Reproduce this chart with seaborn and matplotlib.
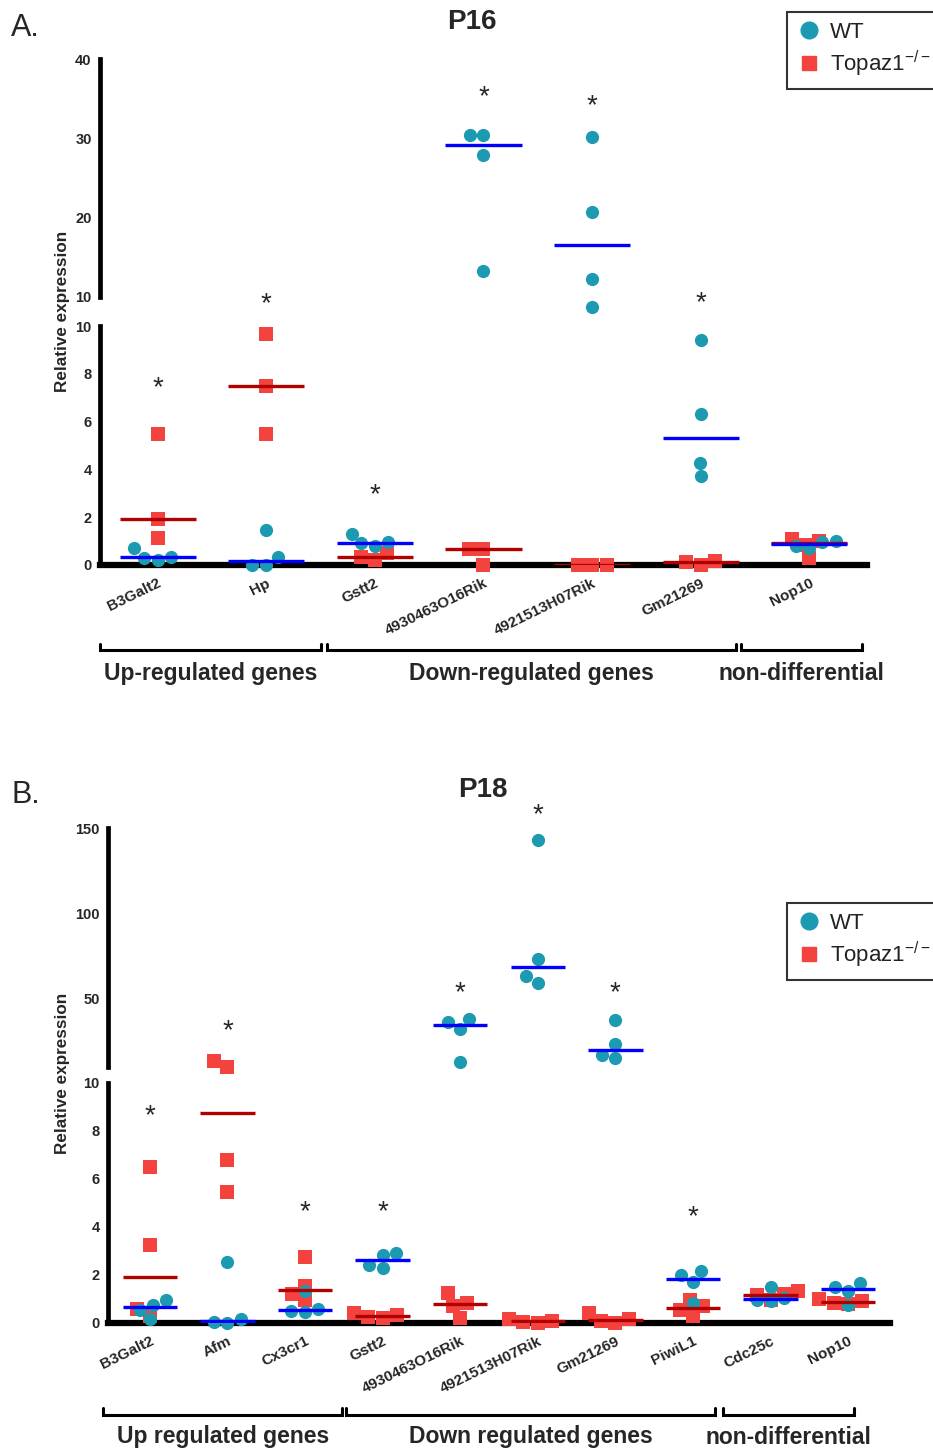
import numpy as np
import pandas as pd
import matplotlib
matplotlib.use('Agg')
import matplotlib.pyplot as plt
import matplotlib.transforms as mtrans
from matplotlib.lines import Line2D
import seaborn as sns

# --- P16 values (relative expression) ---
p16_genes = ['B3Galt2', 'Hp', 'Gstt2', '4930463O16Rik', '4921513H07Rik', 'Gm21269', 'Nop10']
p16_wt = [[0.33, 0.2, 0.7, 0.3],
          [1.45, 0.33, 0.02, 0.02],
          [1.3, 0.95, 0.9, 0.8],
          [30.4, 30.4, 27.9, 13.3],
          [30.2, 20.7, 12.3, 10.8],
          [9.41, 6.32, 4.27, 3.72],
          [0.72, 0.95, 1.0, 0.78]]
p16_ko = [[5.48, 1.92, 1.13],
          [9.67, 7.49, 5.48],
          [0.5, 0.33, 0.2],
          [0.68, 0.65, 0.02],
          [0.02, 0.02, 0.02],
          [0.15, 0.12, 0.02],
          [1.1, 1.0, 0.85, 0.3]]
p16_star = ['B3Galt2', 'Hp', 'Gstt2', '4930463O16Rik', '4921513H07Rik', 'Gm21269']

# --- P18 values ---
p18_genes = ['B3Galt2', 'Afm', 'Cx3cr1', 'Gstt2', '4930463O16Rik', '4921513H07Rik',
             'Gm21269', 'PiwiL1', 'Cdc25c', 'Nop10']
p18_wt = [[0.95, 0.75, 0.55, 0.15],
          [2.55, 0.15, 0.05, 0.02],
          [1.35, 0.6, 0.5, 0.45],
          [2.9, 2.85, 2.4, 2.3],
          [38.1, 36.4, 32.3, 12.9],
          [143.0, 73.3, 63.3, 59.2],
          [37.5, 23.5, 17.0, 15.3],
          [2.15, 2.0, 1.7, 0.82],
          [1.5, 1.05, 0.95, 0.9],
          [1.65, 1.5, 1.35, 0.75]]
p18_ko = [[6.5, 3.25, 0.6, 0.3],
          [10.9, 10.67, 6.8, 5.45],
          [2.75, 1.55, 1.2, 0.95],
          [0.4, 0.35, 0.25, 0.2],
          [1.25, 0.85, 0.7, 0.2],
          [0.15, 0.08, 0.05, 0.02],
          [0.4, 0.18, 0.08, 0.02],
          [0.95, 0.7, 0.55, 0.3],
          [1.35, 1.2, 1.15, 0.95],
          [1.0, 0.9, 0.85, 0.8]]
p18_star = ['B3Galt2', 'Afm', 'Cx3cr1', 'Gstt2', '4930463O16Rik', '4921513H07Rik', 'Gm21269', 'PiwiL1']

WT_COLOR = '#1c9ab2'
KO_COLOR = '#f4433f'
WT_LINE = '#0000ff'
KO_LINE = '#b00000'

sns.set_style('white')
plt.rcParams['font.family'] = ['Liberation Sans', 'DejaVu Sans']
plt.rcParams['mathtext.fontset'] = 'custom'
plt.rcParams['mathtext.rm'] = 'Liberation Sans'

W, H = 933, 1452
fig = plt.figure(figsize=(W / 100, H / 100), dpi=100)


def px_axes(left, top, right, bottom):
    return fig.add_axes([left / W, 1 - bottom / H, (right - left) / W, (bottom - top) / H])


def make_df(genes, wt, ko):
    rows = []
    for g, w, k in zip(genes, wt, ko):
        rows += [(g, 'WT', v) for v in w]
        rows += [(g, 'KO', v) for v in k]
    return pd.DataFrame(rows, columns=['gene', 'genotype', 'value'])


def draw_part(ax, df, genes, part):
    split = 11
    sub = df[df.value <= split] if part == 'low' else df[df.value > split]
    for gt, mk, sz, col, z in (('KO', 's', 10, KO_COLOR, 3), ('WT', 'o', 9.5, WT_COLOR, 4)):
        d = sub[sub.genotype == gt]
        if len(d):
            sns.swarmplot(data=d, x='gene', y='value', order=genes, marker=mk, size=sz,
                          color=col, linewidth=0, ax=ax, clip_on=False, zorder=z, warn_thresh=1)
    for gt, col in (('KO', KO_LINE), ('WT', WT_LINE)):
        sns.boxplot(data=df[df.genotype == gt], x='gene', y='value', order=genes, width=0.7,
                    showbox=False, showcaps=False, showfliers=False, whis=0,
                    whiskerprops={'visible': False},
                    medianprops={'color': col, 'linewidth': 2.4, 'zorder': 5}, ax=ax)
    ax.set_xlabel('')
    ax.set_ylabel('')


def style_axes(up, low, xlim):
    for ax in (up, low):
        ax.set_xlim(*xlim)
        for s in ('top', 'right'):
            ax.spines[s].set_visible(False)
        ax.spines['left'].set_linewidth(3.4)
        ax.spines['left'].set_color('black')
        ax.tick_params(axis='y', direction='out', length=5, width=3, color='black', pad=1,
                       labelsize=10.5)
        for t in ax.get_yticklabels():
            t.set_fontweight('bold')
    up.spines['bottom'].set_visible(False)
    up.tick_params(axis='x', bottom=False, labelbottom=False)
    low.spines['bottom'].set_linewidth(4.5)
    low.spines['bottom'].set_color('black')
    low.tick_params(axis='x', direction='out', length=4, width=3, color='black', pad=4)
    for t in low.get_xticklabels():
        t.set_rotation(26)
        t.set_ha('right')
        t.set_va('top')
        t.set_rotation_mode('anchor')
        t.set_fontsize(11)
        t.set_fontweight('bold')


def bracket(ax, x0, x1, y, tip, label, ly):
    tr = mtrans.blended_transform_factory(ax.transData, ax.transAxes)
    ax.plot([x0, x0, x1, x1], [tip, y, y, tip], transform=tr, color='black', lw=2.2,
            clip_on=False, solid_joinstyle='miter')
    ax.text((x0 + x1) / 2, ly, label, transform=tr, ha='center', va='center',
            fontsize=16.5, fontweight='bold')


def legend(y_top):
    handles = [Line2D([], [], marker='o', ls='', color=WT_COLOR, markersize=12, label='WT'),
               Line2D([], [], marker='s', ls='', color=KO_COLOR, markersize=10,
                      label='Topaz1$^{\\mathrm{-/-}}$')]
    leg = fig.legend(handles=handles, loc='upper left', bbox_to_anchor=(787 / W, 1 - y_top / H),
                     frameon=True, fancybox=False, fontsize=16, handletextpad=0.4,
                     borderpad=0.45, labelspacing=0.25, handlelength=1.1, borderaxespad=0)
    leg.get_frame().set_edgecolor('black')
    leg.get_frame().set_linewidth(1.5)
    for t in leg.get_texts():
        t.set_color('#222222')


# ---------------- Panel A: P16 ----------------
df16 = make_df(p16_genes, p16_wt, p16_ko)
a_up = px_axes(100, 59, 867, 297)
a_low = px_axes(100, 326, 867, 565)
draw_part(a_up, df16, p16_genes, 'up')
draw_part(a_low, df16, p16_genes, 'low')
a_up.set_ylim(10, 40)
a_up.set_yticks([10, 20, 30, 40])
a_low.set_ylim(0, 10)
a_low.set_yticks([0, 2, 4, 6, 8, 10])
style_axes(a_up, a_low, (-0.53, 6.53))

star16 = {'B3Galt2': ('low', 7.4), 'Hp': ('low', 10.9), 'Gstt2': ('low', 2.9),
          '4930463O16Rik': ('up', 35.2), '4921513H07Rik': ('up', 34.1), 'Gm21269': ('low', 10.95)}
for g in p16_star:
    part, yv = star16[g]
    ax = a_up if part == 'up' else a_low
    ax.text(p16_genes.index(g), yv, '*', ha='center', va='center', fontsize=20, clip_on=False)

bracket(a_low, -0.53, 1.5, -0.356, -0.33, 'Up-regulated genes', -0.456)
bracket(a_low, 1.56, 5.32, -0.356, -0.33, 'Down-regulated genes', -0.456)
bracket(a_low, 5.37, 6.48, -0.356, -0.33, 'non-differential', -0.456)

fig.text(63 / W, 1 - 311 / H, 'Relative expression', rotation=90, ha='center', va='center',
         fontsize=12.3, fontweight='bold')
fig.text(472 / W, 1 - 22 / H, 'P16', ha='center', va='center', fontsize=20, fontweight='bold')
fig.text(11 / W, 1 - 28 / H, 'A.', ha='left', va='center', fontsize=22)
legend(12)

# ---------------- Panel B: P18 ----------------
df18 = make_df(p18_genes, p18_wt, p18_ko)
b_up = px_axes(108, 828, 890, 1067)
b_low = px_axes(108, 1083, 890, 1323)
draw_part(b_up, df18, p18_genes, 'up')
draw_part(b_low, df18, p18_genes, 'low')
b_up.set_ylim(10, 150)
b_up.set_yticks([10, 50, 100, 150])
b_up.set_yticklabels(['', '50', '100', '150'])
b_low.set_ylim(0, 10)
b_low.set_yticks([0, 2, 4, 6, 8, 10])
style_axes(b_up, b_low, (-0.54, 9.54))

star18 = {'B3Galt2': ('low', 8.6), 'Afm': ('up', 31.0), 'Cx3cr1': ('low', 4.6),
          'Gstt2': ('low', 4.6), '4930463O16Rik': ('up', 53.4), '4921513H07Rik': ('up', 157.5),
          'Gm21269': ('up', 53.4), 'PiwiL1': ('low', 4.4)}
for g in p18_star:
    part, yv = star18[g]
    ax = b_up if part == 'up' else b_low
    ax.text(p18_genes.index(g), yv, '*', ha='center', va='center', fontsize=20, clip_on=False)

bracket(b_low, -0.6, 2.48, -0.383, -0.354, 'Up regulated genes', -0.475)
bracket(b_low, 2.53, 7.29, -0.383, -0.354, 'Down regulated genes', -0.475)
bracket(b_low, 7.39, 9.08, -0.383, -0.354, 'non-differential', -0.475)

fig.text(63 / W, 1 - 1073 / H, 'Relative expression', rotation=90, ha='center', va='center',
         fontsize=12.3, fontweight='bold')
fig.text(483 / W, 1 - 790 / H, 'P18', ha='center', va='center', fontsize=20, fontweight='bold')
fig.text(11 / W, 1 - 795 / H, 'B.', ha='left', va='center', fontsize=22)
legend(903)

fig.savefig('out.png', dpi=100)
